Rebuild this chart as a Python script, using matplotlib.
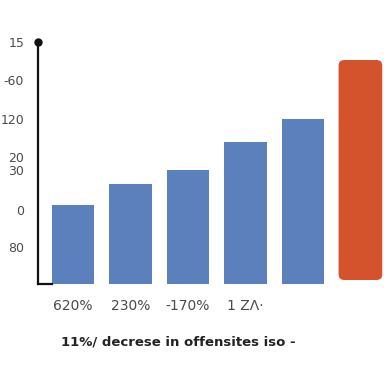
import numpy as np
import matplotlib.pyplot as plt
from matplotlib.patches import FancyBboxPatch

x_labels = ["620%", "230%", "-170%", "1 ZΛ·", "", ""]
heights = [79, 100, 114, 142, 165, 220]
bar_colors = ["#5B80BC"] * 5 + ["#D4532C"]
ytick_pos = [242, 204, 165, 127, 114, 74, 37]
ytick_labels = ["15", "-60", "120", "20", "30", "0", "80"]
title = "11%/ decrese in offensites iso -"

fig = plt.figure(figsize=(3.84, 3.84), dpi=100)
ax = fig.add_axes([38 / 384, 1 - 284 / 384, 346 / 384, 242 / 384])

xs = np.arange(len(heights))
bars = ax.bar(xs[:5], heights[:5], width=0.74, color=bar_colors[:5])

# last bar is rounded and sits a little above the baseline
w = 0.76
rb = FancyBboxPatch((xs[5] - w / 2, 4), w, heights[5],
                    boxstyle="round,pad=0,rounding_size=0.1",
                    mutation_aspect=57.5, facecolor=bar_colors[5],
                    edgecolor="none")
ax.add_patch(rb)

ax.set_xlim(-0.61, 5.41)
ax.set_ylim(0, 242)

ax.set_xticks(xs)
ax.set_xticklabels(x_labels)
ax.set_yticks(ytick_pos)
ax.set_yticklabels(ytick_labels)
ax.tick_params(length=0, labelcolor="#4a4a4a")
ax.tick_params(axis="y", pad=10, labelsize=9)
ax.tick_params(axis="x", pad=11, labelsize=10)

for s in ["top", "right"]:
    ax.spines[s].set_visible(False)
ax.spines["left"].set_linewidth(1.6)
ax.spines["left"].set_color("#111111")
ax.spines["bottom"].set_linewidth(1.6)
ax.spines["bottom"].set_color("#111111")
ax.spines["bottom"].set_bounds(-0.61, -0.36)
ax.plot([-0.61], [242], "o", color="#111111", markersize=5, clip_on=False)

fig.text(178 / 384, 1 - 342 / 384, title, ha="center", va="center",
         fontsize=9.5, fontweight="bold", color="#222222")

fig.savefig("out.png", dpi=100)
